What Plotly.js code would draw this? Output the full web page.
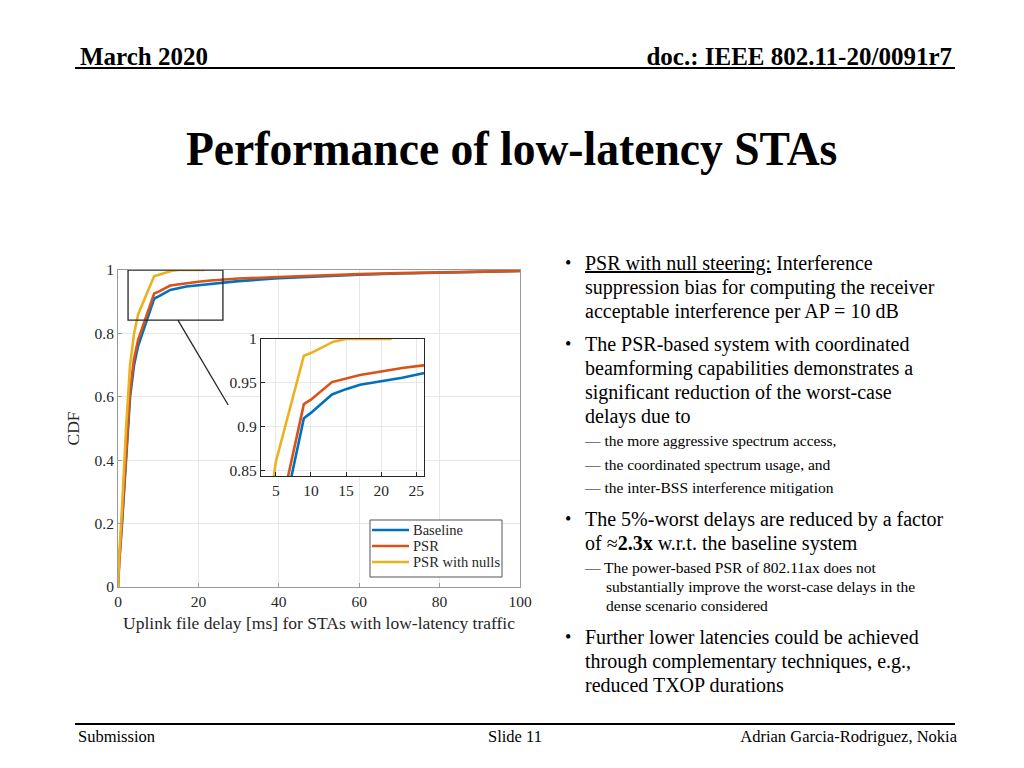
<!DOCTYPE html>
<html>
<head>
<meta charset="utf-8">
<script src="https://cdn.plot.ly/plotly-3.0.1.min.js"></script>
<style>
  html, body { margin: 0; padding: 0; background: #fff; }
  #page { position: relative; width: 1024px; height: 768px; overflow: hidden; font-family: "Liberation Serif", "Times New Roman", serif; color: #000; }
  #chart { position: absolute; left: 0; top: 0; width: 1024px; height: 768px; }
  .t { position: absolute; white-space: nowrap; }
  .hdr { font-weight: bold; font-size: 25px; line-height: 28px; top: 43px; }
  .rule { position: absolute; left: 75px; width: 880px; height: 2px; background: #000; }
  .ftr { font-size: 16.5px; line-height: 20px; top: 727px; }
  .bul { font-size: 20px; line-height: 24px; left: 585px; }
  .dot { position: absolute; left: -20px; font-size: 18px; }
  .sub { font-size: 15.5px; left: 585px; }
</style>
</head>
<body>
<div id="page">
  <div id="chart"></div>

  <div class="t hdr" style="left:80px;">March 2020</div>
  <div class="t hdr" style="right:72px;">doc.: IEEE 802.11-20/0091r7</div>
  <div class="rule" style="top:67px;"></div>

  <div class="t" id="title" style="left:186px; top:121px; font-size:48px; line-height:56px; font-weight:bold; transform:scaleX(0.95); transform-origin:left top;">Performance of low-latency STAs</div>

  <div class="t bul" style="top:251px;"><span class="dot">•</span><u>PSR with null steering:</u> Interference<br>suppression bias for computing the receiver<br>acceptable interference per AP = 10 dB</div>
  <div class="t bul" style="top:332px;"><span class="dot">•</span>The PSR-based system with coordinated<br>beamforming capabilities demonstrates a<br>significant reduction of the worst-case<br>delays due to</div>
  <div class="t sub" style="top:429px; line-height:23.5px;">— the more aggressive spectrum access,<br>— the coordinated spectrum usage, and<br>— the inter-BSS interference mitigation</div>
  <div class="t bul" style="top:507px;"><span class="dot">•</span>The 5%-worst delays are reduced by a factor<br>of ≈<b>2.3x</b> w.r.t. the baseline system</div>
  <div class="t sub" style="top:558px; line-height:19px;">— The power-based PSR of 802.11ax does not<br><span style="padding-left:21px">substantially improve the worst-case delays in the</span><br><span style="padding-left:21px">dense scenario considered</span></div>
  <div class="t bul" style="top:625px;"><span class="dot">•</span>Further lower latencies could be achieved<br>through complementary techniques, e.g.,<br>reduced TXOP durations</div>

  <div class="rule" style="top:723px;"></div>
  <div class="t ftr" style="left:78px;">Submission</div>
  <div class="t ftr" style="left:488px;">Slide 11</div>
  <div class="t ftr" style="right:67px;">Adrian Garcia-Rodriguez, Nokia</div>
</div>

<script>
// ---- data ----
const seriesNames = ["Baseline", "PSR", "PSR with nulls"];
const seriesColors = ["#0072BD", "#D95319", "#EDB120"];

const baselineDelay = [0, 0.3, 1, 2, 3, 4, 5, 9, 10, 13, 15, 17, 20, 23, 26, 30, 40, 50, 60, 70, 80, 90, 100];
const baselineCdf   = [0, 0.08, 0.2, 0.4, 0.6, 0.7, 0.76, 0.91, 0.916, 0.937, 0.943, 0.948, 0.952, 0.956, 0.961, 0.965, 0.974, 0.98, 0.985, 0.989, 0.992, 0.995, 0.997];

const psrDelay = [0, 0.3, 1, 2, 3, 4, 5, 9, 10, 13, 15, 17, 20, 23, 26, 30, 40, 50, 60, 70, 80, 90, 100];
const psrCdf   = [0, 0.08, 0.21, 0.42, 0.62, 0.72, 0.78, 0.926, 0.931, 0.951, 0.955, 0.959, 0.963, 0.967, 0.97, 0.973, 0.978, 0.983, 0.987, 0.99, 0.993, 0.995, 0.997];

const nullsDelay = [0, 0.3, 1, 2, 3, 4, 5, 9, 10, 13.2, 15, 21.5];
const nullsCdf   = [0, 0.1, 0.25, 0.5, 0.7, 0.8, 0.86, 0.981, 0.984, 0.997, 1.0, 1.0];

const mainXTicks = [0, 20, 40, 60, 80, 100];
const mainYTicks = [0, 0.2, 0.4, 0.6, 0.8, 1];
const insetXTicks = [5, 10, 15, 20, 25];
const insetYTicks = [0.85, 0.9, 0.95, 1];
const insetYLabels = ["0.85", "0.9", "0.95", "1"];
const insetXRange = [2.9, 26.1];
const insetYRange = [0.8443, 1.0];

// ---- traces ----
const xs = [baselineDelay, psrDelay, nullsDelay];
const ys = [baselineCdf, psrCdf, nullsCdf];
const traces = [];
for (let i = 0; i < 3; i++) {
  traces.push({ x: xs[i], y: ys[i], type: "scatter", mode: "lines", name: seriesNames[i], showlegend: false,
    line: { color: seriesColors[i], width: 2.6 }, xaxis: "x", yaxis: "y" });
}
for (let i = 0; i < 3; i++) {
  traces.push({ x: xs[i], y: ys[i], type: "scatter", mode: "lines", name: seriesNames[i], showlegend: false,
    line: { color: seriesColors[i], width: 2.6 }, xaxis: "x2", yaxis: "y2" });
}

const W = 1024, H = 768;
const serif = "Liberation Serif, serif";
const tickFont = { family: serif, size: 15.5, color: "#262626" };
const axisCommon = {
  showgrid: true, gridcolor: "#e8e8e8", gridwidth: 1, zeroline: false,
  showline: true, mirror: true, ticks: "inside", ticklen: 4, tickwidth: 1,
  tickfont: tickFont, automargin: false
};

// hand-placed legend box (paper pixels), matching the MATLAB legend
const lg = { left: 370, top: 520, right: 502, bottom: 577, row0: 530, rowStep: 16, lineX0: 372, lineX1: 409, textX: 411 };
const px = v => v / W, py = v => 1 - v / H;

const shapes = [
  { type: "rect", xref: "x", yref: "y", x0: 2.5, x1: 26.1, y0: 0.842, y1: 1.0,
    line: { color: "#262626", width: 1.3 }, fillcolor: "rgba(0,0,0,0)", layer: "above" },
  { type: "line", xref: "x", yref: "y", x0: 14.9, y0: 0.842, x1: 27.4, y1: 0.574,
    line: { color: "#262626", width: 1.3 }, layer: "above" },
  { type: "rect", xref: "paper", yref: "paper", x0: px(lg.left), x1: px(lg.right), y0: py(lg.bottom), y1: py(lg.top),
    line: { color: "#555", width: 1 }, fillcolor: "#ffffff", layer: "above" }
];
const annotations = [];
for (let i = 0; i < 3; i++) {
  const yy = lg.row0 + i * lg.rowStep;
  shapes.push({ type: "line", xref: "paper", yref: "paper", x0: px(lg.lineX0), x1: px(lg.lineX1), y0: py(yy), y1: py(yy),
    line: { color: seriesColors[i], width: 2.6 }, layer: "above" });
  annotations.push({ xref: "paper", yref: "paper", x: px(lg.textX), y: py(yy), xanchor: "left", yanchor: "middle",
    text: seriesNames[i], showarrow: false, font: { family: serif, size: 14.5, color: "#262626" } });
}

const layout = {
  width: W, height: H,
  margin: { l: 0, r: 0, t: 0, b: 0 },
  paper_bgcolor: "rgba(0,0,0,0)", plot_bgcolor: "#ffffff",
  showlegend: false,
  xaxis: Object.assign({}, axisCommon, {
    domain: [118 / W, 520 / W], range: [0, 100], tickvals: mainXTicks, anchor: "y",
    linecolor: "#9a9a9a", tickcolor: "#9a9a9a",
    title: { text: "Uplink file delay [ms] for STAs with low-latency traffic", standoff: 8,
      font: { family: serif, size: 17.5, color: "#262626" } }
  }),
  yaxis: Object.assign({}, axisCommon, {
    domain: [1 - 587 / H, 1 - 270 / H], range: [0, 1], tickvals: mainYTicks, anchor: "x",
    linecolor: "#9a9a9a", tickcolor: "#9a9a9a",
    title: { text: "CDF", standoff: 10, font: { family: serif, size: 17.5, color: "#262626" } }
  }),
  xaxis2: Object.assign({}, axisCommon, {
    domain: [261 / W, 424 / W], range: insetXRange, tickvals: insetXTicks, anchor: "y2",
    linecolor: "#262626", tickcolor: "#262626", linewidth: 1.2
  }),
  yaxis2: Object.assign({}, axisCommon, {
    domain: [1 - 476 / H, 1 - 339 / H], range: insetYRange, tickvals: insetYTicks, anchor: "x2",
    ticktext: insetYLabels,
    linecolor: "#262626", tickcolor: "#262626", linewidth: 1.2
  }),
  shapes: shapes,
  annotations: annotations
};

Plotly.newPlot("chart", traces, layout, { staticPlot: true, displayModeBar: false });
</script>
</body>
</html>
